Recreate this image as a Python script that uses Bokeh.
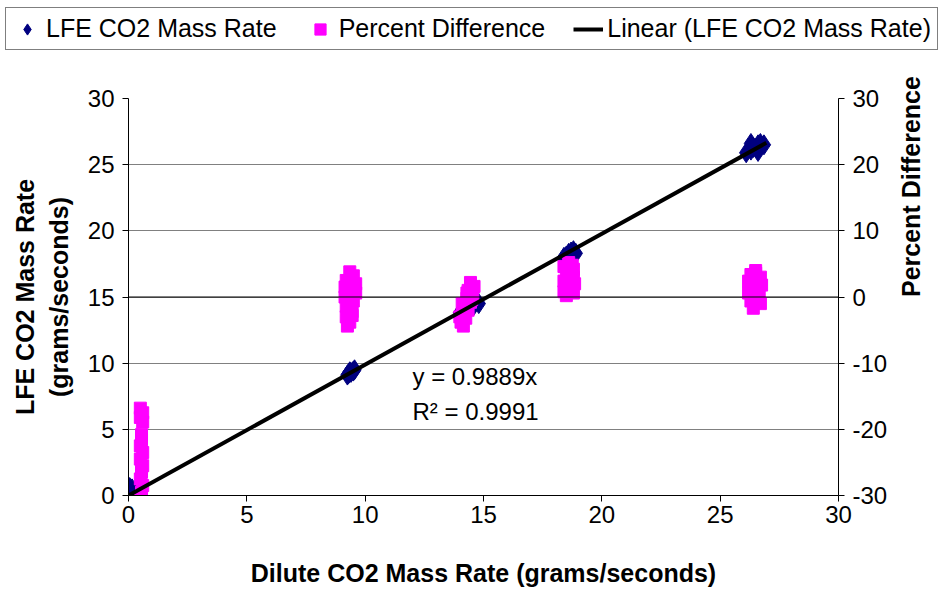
import math
from bokeh.plotting import figure
from bokeh.layouts import column
from bokeh.models import (Range1d, LinearAxis, Span, Legend, LegendItem, Label,
                          FixedTicker)
from bokeh.embed import file_html
from bokeh.resources import INLINE

# ---- data ----
lfe_x = [0.05, 0.15, 0.3, 0.45,
         9.25, 9.3, 9.4, 9.5, 9.55, 9.35,
         14.0, 14.2, 14.4, 14.6, 14.8,
         18.4, 18.5, 18.6, 18.7, 18.8, 18.9,
         26.1, 26.3, 26.4, 26.6, 26.7, 26.85, 26.3, 26.6]
lfe_y = [0.6, 0.5, 0.4, 0.5,
         9.1, 9.2, 9.3, 9.4, 9.5, 9.35,
         13.8, 14.0, 14.2, 14.4, 14.5,
         18.0, 18.1, 18.3, 18.4, 18.5, 18.3,
         25.9, 26.1, 26.3, 26.5, 26.6, 26.5, 26.6, 26.0]

pct_x = [0.5, 0.6, 0.5, 0.6, 0.55, 0.5, 0.6, 0.5, 0.6, 0.55, 0.5, 0.6, 0.55, 0.5, 0.55, 0.55,
         9.35, 9.5, 9.2, 9.6, 9.3, 9.6, 9.15, 9.5, 9.2, 9.45, 9.2, 9.35, 9.25, 9.15, 9.55, 9.4,
         9.4, 9.3, 9.45, 9.25,
         14.45, 14.6, 14.35, 14.55, 14.3, 14.45, 14.2, 14.35, 14.1, 14.25, 14.05, 14.15, 14.0, 14.1,
         14.3, 14.5, 14.2,
         18.6, 18.4, 18.8, 18.5, 18.8, 18.4, 18.85, 18.6, 18.4, 18.8, 18.5, 18.7, 18.6, 18.45, 18.75,
         26.5, 26.3, 26.7, 26.2, 26.75, 26.4, 26.2, 26.65, 26.3, 26.7, 26.4, 26.3, 26.5, 26.6, 26.45]
pct_y = [-16.8, -17.5, -18.2, -18.9, -21.6, -22.5, -23.5, -24.5, -25.5, -26.5, -27.5, -28.5, -29.5, -30.3, -20.8, -26.0,
         3.8, 3.2, 2.5, 2.0, 1.2, 0.6, 0.0, -0.6, -1.4, -2.2, -3.0, -3.8, -4.4, 1.5, 1.0, -1.0,
         2.8, -0.2, -2.8, 0.4,
         2.2, 1.6, 1.0, 0.4, -0.2, -0.8, -1.4, -2.0, -2.6, -3.2, -3.8, -4.4, -3.0, -1.0,
         0.6, -0.4, -2.4,
         5.2, 4.6, 4.2, 3.6, 3.0, 2.4, 2.0, 1.4, 0.8, 0.6, 0.2, 3.8, 2.8, 1.6, 4.8,
         4.0, 3.4, 3.0, 2.4, 1.8, 1.2, 0.6, 0.0, -0.6, -1.0, -1.7, 2.0, 3.6, 0.8, -0.2]

slope = 0.9889
fit_x = [0.0, 26.95]
fit_y = [slope * v for v in fit_x]

x_ticks = [0, 5, 10, 15, 20, 25, 30]
y_ticks = [0, 5, 10, 15, 20, 25, 30]
y2_ticks = [-30, -20, -10, 0, 10, 20, 30]
y2_labels = {t: str(t) for t in y2_ticks}

series_names = ["LFE CO2 Mass Rate", "Percent Difference", "Linear (LFE CO2 Mass Rate)"]

FONT = "Liberation Sans"
NAVY = "#000080"
MAGENTA = "#FF00FF"

# ---------- legend strip ----------
lg = figure(width=943, height=60, output_backend="svg", toolbar_location=None,
            x_range=Range1d(0, 1), y_range=Range1d(0, 1),
            x_axis_type=None, y_axis_type=None,
            min_border_left=0, min_border_right=0, min_border_top=0, min_border_bottom=0)
lg.frame_align = False
lg.outline_line_color = None
lg.grid.visible = False
d1 = lg.scatter([-5], [-5], marker="diamond", size=16, color=NAVY)
d2 = lg.scatter([-5], [-5], marker="square", size=13, color=MAGENTA)
d3 = lg.line([-5, -4], [-5, -4], line_color="black", line_width=4)
legend = Legend(items=[
    LegendItem(label=series_names[0], renderers=[d1]),
    LegendItem(label=series_names[1], renderers=[d2]),
    LegendItem(label=series_names[2], renderers=[d3]),
], orientation="horizontal", location=(5, 10))
legend.label_text_font = FONT
legend.label_text_font_size = "25px"
legend.label_text_color = "black"
legend.border_line_color = "black"
legend.border_line_width = 1
legend.padding = 6
legend.spacing = 28
legend.glyph_width = 30
legend.glyph_height = 28
legend.label_standoff = 4
legend.margin = 0
lg.add_layout(legend, "center")

# ---------- main chart ----------
p = figure(width=943, height=530, output_backend="svg", toolbar_location=None,
           x_range=Range1d(0, 30), y_range=Range1d(0, 30),
           min_border_left=128, min_border_right=105, min_border_top=38, min_border_bottom=95)
p.frame_align = False
p.extra_y_ranges = {"pct": Range1d(-30, 30)}
p.outline_line_color = None
p.background_fill_color = "white"
p.border_fill_color = "white"

p.xgrid.grid_line_color = None
p.ygrid.grid_line_color = "#808080"
p.ygrid.ticker = FixedTicker(ticks=y_ticks)

r_lfe = p.scatter(lfe_x, lfe_y, marker="diamond", size=20, color=NAVY)
r_pct = p.scatter(pct_x, pct_y, marker="square", size=12, color=MAGENTA, y_range_name="pct")
p.add_layout(Span(location=15, dimension="width", line_color="black", line_width=1))
r_fit = p.line(fit_x, fit_y, line_color="black", line_width=4)

right = LinearAxis(y_range_name="pct", axis_label="Percent Difference")
p.add_layout(right, "right")

p.xaxis.ticker = FixedTicker(ticks=x_ticks)
p.yaxis[0].ticker = FixedTicker(ticks=y_ticks)
right.ticker = FixedTicker(ticks=y2_ticks)
right.major_label_overrides = y2_labels

p.xaxis.axis_label = "Dilute CO2 Mass Rate (grams/seconds)"
p.yaxis[0].axis_label = "LFE CO2 Mass Rate\n(grams/seconds)"

for ax in p.xaxis + p.yaxis:
    ax.axis_line_color = "black"
    ax.axis_line_width = 1
    ax.major_tick_line_color = "black"
    ax.major_tick_out = 6
    ax.major_tick_in = 0
    ax.minor_tick_line_color = None
    ax.major_label_text_font = FONT
    ax.major_label_text_font_size = "24px"
    ax.major_label_text_color = "black"
    ax.axis_label_text_font = FONT
    ax.axis_label_text_font_size = "25px"
    ax.axis_label_text_font_style = "bold"
    ax.axis_label_text_color = "black"

p.xaxis.major_label_standoff = 4
p.xaxis.axis_label_standoff = 33
p.yaxis[0].major_label_standoff = 8
p.yaxis[0].axis_label_standoff = 12
right.major_label_standoff = 8
right.axis_label_standoff = 21
right.axis_label_orientation = math.pi / 2

p.add_layout(Label(x=12.0, y=8.0, text="y = 0.9889x", text_font=FONT,
                   text_font_size="24px", text_color="black"))
p.add_layout(Label(x=12.0, y=5.3, text="R\u00b2 = 0.9991", text_font=FONT,
                   text_font_size="24px", text_color="black"))

page = column(lg, p, spacing=0)
open("out.html", "w").write(file_html(page, INLINE))
